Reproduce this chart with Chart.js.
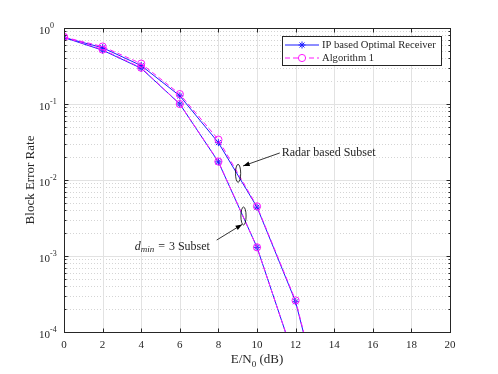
<!DOCTYPE html>
<html>
<head>
<meta charset="utf-8">
<script src="https://cdn.jsdelivr.net/npm/chart.js@4/dist/chart.umd.min.js"></script>
<style>
  html, body { margin: 0; padding: 0; background: #fff; }
  #wrap { width: 498px; height: 374px; }
</style>
</head>
<body>
<div id="wrap"><canvas id="berChart" width="498" height="374"></canvas></div>
<script>
// values
const snrDb = [0, 2, 4, 6, 8, 10, 12, 14];
const ipRadar = [0.75, 0.55, 0.32, 0.128, 0.031, 0.0044, 0.00025, 0.0000025];
const ipDmin = [0.75, 0.51, 0.295, 0.10, 0.0173, 0.0013, 0.00004];
const algRadar = [0.76, 0.57, 0.34, 0.135, 0.034, 0.0045, 0.00026, 0.0000026];
const algDmin = [0.76, 0.52, 0.30, 0.10, 0.0175, 0.0013, 0.00004];

const xTicks = [0, 2, 4, 6, 8, 10, 12, 14, 16, 18, 20];
const yDecades = [0, -1, -2, -3, -4];

// annotation anchors, in data units
const radarEllipse = { x: 9.02, y: 0.01225 };
const dminEllipse = { x: 9.30, y: 0.00336 };
const radarArrow = { from: { x: 11.18, y: 0.0227 }, to: { x: 9.28, y: 0.0153 } };
const dminArrow = { from: { x: 7.91, y: 0.00162 }, to: { x: 9.23, y: 0.0026 } };
const radarText = { x: 11.28, y: 0.0227, text: 'Radar based Subset' };
const dminText = { x: 3.66, y: 0.00132 };

const SERIF = '"Liberation Serif", "Times New Roman", serif';
const BLUE = '#1a1aff';
const MAGENTA = '#ff19ff';

function toPoints(vals) {
    return vals.map((v, i) => ({ x: snrDb[i], y: v }));
}

function ipStyle(vals) {
    return {
        label: 'IP based Optimal Receiver',
        data: toPoints(vals),
        borderColor: BLUE,
        backgroundColor: BLUE,
        borderWidth: 1,
        pointStyle: 'star',
        pointRadius: 3.5,
        pointBorderColor: BLUE,
        pointBorderWidth: 1,
        order: 1
    };
}

function algStyle(vals) {
    return {
        label: 'Algorithm 1',
        data: toPoints(vals),
        borderColor: MAGENTA,
        backgroundColor: 'rgba(0,0,0,0)',
        borderWidth: 1,
        borderDash: [5, 3],
        pointStyle: 'circle',
        pointRadius: 3.6,
        pointBorderColor: MAGENTA,
        pointBorderWidth: 1,
        order: 0
    };
}

// draws the matlab style grid, box, ticks, labels, legend and notes
const matlabLook = {
    id: 'matlabLook',
    beforeDatasetsDraw(chart) {
        const ctx = chart.ctx;
        const a = chart.chartArea;
        const xs = chart.scales.x, ys = chart.scales.y;
        ctx.save();
        // minor dotted lines
        ctx.strokeStyle = '#d4d4d4';
        ctx.lineWidth = 1;
        ctx.setLineDash([1, 2]);
        for (let d = -4; d < 0; d++) {
            for (let k = 2; k <= 9; k++) {
                const y = Math.round(ys.getPixelForValue(k * Math.pow(10, d))) + 0.5;
                ctx.beginPath(); ctx.moveTo(a.left, y); ctx.lineTo(a.right, y); ctx.stroke();
            }
        }
        ctx.setLineDash([]);
        ctx.strokeStyle = '#e2e2e2';
        yDecades.forEach(d => {
            const y = Math.round(ys.getPixelForValue(Math.pow(10, d))) + 0.5;
            ctx.beginPath(); ctx.moveTo(a.left, y); ctx.lineTo(a.right, y); ctx.stroke();
        });
        xTicks.forEach(t => {
            const x = Math.round(xs.getPixelForValue(t)) + 0.5;
            ctx.beginPath(); ctx.moveTo(x, a.top); ctx.lineTo(x, a.bottom); ctx.stroke();
        });
        ctx.restore();
    },
    afterDatasetsDraw(chart) {
        const ctx = chart.ctx;
        const a = chart.chartArea;
        const xs = chart.scales.x, ys = chart.scales.y;
        ctx.save();
        ctx.strokeStyle = '#262626';
        ctx.lineWidth = 1;
        const L = Math.round(a.left) + 0.5, R = Math.round(a.right) + 0.5;
        const T = Math.round(a.top) + 0.5, B = Math.round(a.bottom) + 0.5;
        ctx.strokeRect(L, T, R - L, B - T);
        // ticks
        ctx.beginPath();
        xTicks.forEach(t => {
            const x = Math.round(xs.getPixelForValue(t)) + 0.5;
            ctx.moveTo(x, B); ctx.lineTo(x, B - 4);
            ctx.moveTo(x, T); ctx.lineTo(x, T + 4);
        });
        yDecades.forEach(d => {
            const y = Math.round(ys.getPixelForValue(Math.pow(10, d))) + 0.5;
            ctx.moveTo(L, y); ctx.lineTo(L + 4, y);
            ctx.moveTo(R, y); ctx.lineTo(R - 4, y);
        });
        for (let d = -4; d < 0; d++) {
            for (let k = 2; k <= 9; k++) {
                const y = Math.round(ys.getPixelForValue(k * Math.pow(10, d))) + 0.5;
                ctx.moveTo(L, y); ctx.lineTo(L + 2, y);
                ctx.moveTo(R, y); ctx.lineTo(R - 2, y);
            }
        }
        ctx.stroke();

        // tick labels
        ctx.fillStyle = '#262626';
        ctx.font = '11px ' + SERIF;
        ctx.textAlign = 'center';
        ctx.textBaseline = 'middle';
        xTicks.forEach(t => {
            ctx.fillText(String(t), xs.getPixelForValue(t), a.bottom + 13);
        });
        yDecades.forEach(d => {
            const y = ys.getPixelForValue(Math.pow(10, d));
            ctx.font = '11px ' + SERIF;
            ctx.textAlign = 'right';
            ctx.fillText('10', a.left - 14, y + 3);
            ctx.font = '8px ' + SERIF;
            ctx.textAlign = 'left';
            ctx.fillText(d === 0 ? '0' : '-' + Math.abs(d), a.left - 14, y - 2);
        });

        // axis titles
        ctx.textAlign = 'left';
        const cx = (a.left + a.right) / 2;
        const part1 = 'E/N', part2 = ' (dB)';
        ctx.font = '13px ' + SERIF;
        const w1 = ctx.measureText(part1).width;
        const w3 = ctx.measureText(part2).width;
        ctx.font = '9px ' + SERIF;
        const w2 = ctx.measureText('0').width;
        let x0 = cx - (w1 + w2 + w3) / 2;
        ctx.font = '13px ' + SERIF;
        ctx.fillText(part1, x0, 360);
        ctx.font = '9px ' + SERIF;
        ctx.fillText('0', x0 + w1, 365);
        ctx.font = '13px ' + SERIF;
        ctx.fillText(part2, x0 + w1 + w2, 360);

        ctx.save();
        ctx.translate(31, (a.top + a.bottom) / 2);
        ctx.rotate(-Math.PI / 2);
        ctx.textAlign = 'center';
        ctx.fillText('Block Error Rate', 0, 0);
        ctx.restore();
        ctx.restore();
    },
    afterDraw(chart) {
        const ctx = chart.ctx;
        const xs = chart.scales.x, ys = chart.scales.y;
        const px = p => ({ x: xs.getPixelForValue(p.x), y: ys.getPixelForValue(p.y) });
        ctx.save();
        ctx.strokeStyle = '#000';
        ctx.fillStyle = '#000';
        ctx.lineWidth = 0.8;

        [radarEllipse, dminEllipse].forEach(e => {
            const c = px(e);
            ctx.beginPath();
            ctx.ellipse(c.x, c.y, 2.6, 9, 0, 0, Math.PI * 2);
            ctx.stroke();
        });

        [radarArrow, dminArrow].forEach(ar => {
            const f = px(ar.from), t = px(ar.to);
            const ang = Math.atan2(t.y - f.y, t.x - f.x);
            ctx.beginPath();
            ctx.moveTo(f.x, f.y);
            ctx.lineTo(t.x, t.y);
            ctx.stroke();
            ctx.beginPath();
            ctx.moveTo(t.x, t.y);
            ctx.lineTo(t.x - 7 * Math.cos(ang - 0.35), t.y - 7 * Math.sin(ang - 0.35));
            ctx.lineTo(t.x - 7 * Math.cos(ang + 0.35), t.y - 7 * Math.sin(ang + 0.35));
            ctx.closePath();
            ctx.fill();
        });

        ctx.fillStyle = '#262626';
        ctx.textBaseline = 'middle';
        ctx.textAlign = 'left';
        const rt = px(radarText);
        ctx.font = '12px ' + SERIF;
        ctx.fillText(radarText.text, rt.x, rt.y);

        const dt = px(dminText);
        let x = dt.x;
        ctx.font = 'italic 12px ' + SERIF;
        ctx.fillText('d', x, dt.y);
        x += ctx.measureText('d').width;
        ctx.font = 'italic 9px ' + SERIF;
        ctx.fillText('min', x, dt.y + 3);
        x += ctx.measureText('min').width + 4;
        ctx.font = '12px ' + SERIF;
        ctx.fillText('=', x, dt.y);
        x += ctx.measureText('=').width + 4;
        ctx.fillText('3 Subset', x, dt.y);

        // legend box
        const bx = 282.5, by = 36.5, bw = 159, bh = 29;
        ctx.fillStyle = '#fff';
        ctx.fillRect(bx, by, bw, bh);
        ctx.strokeStyle = '#262626';
        ctx.lineWidth = 1;
        ctx.strokeRect(bx, by, bw, bh);
        // pick a size so the longest label fits like in the figure
        ctx.font = '10px ' + SERIF;
        const legendPx = Math.min(12, 10 * 114 / ctx.measureText(chart.data.datasets[0].label).width);
        const rows = [chart.data.datasets[0], chart.data.datasets[2]];
        rows.forEach((ds, i) => {
            const ry = 45 + i * 13;
            ctx.strokeStyle = ds.borderColor;
            ctx.lineWidth = 1;
            ctx.setLineDash(ds.borderDash || []);
            ctx.beginPath();
            ctx.moveTo(285, ry); ctx.lineTo(319, ry);
            ctx.stroke();
            ctx.setLineDash([]);
            ctx.fillStyle = '#fff';
            ctx.strokeStyle = ds.pointBorderColor;
            Chart.helpers.drawPoint(ctx, {
                pointStyle: ds.pointStyle, radius: ds.pointRadius, borderWidth: 1, rotation: 0
            }, 302, ry);
            ctx.fillStyle = '#262626';
            ctx.font = legendPx + 'px ' + SERIF;
            ctx.fillText(ds.label, 322, ry);
        });
        ctx.restore();
    }
};

const ctx = document.getElementById('berChart').getContext('2d');
const berChart = new Chart(ctx, {
    type: 'line',
    data: {
        datasets: [ipStyle(ipRadar), ipStyle(ipDmin), algStyle(algRadar), algStyle(algDmin)]
    },
    options: {
        responsive: false,
        animation: false,
        devicePixelRatio: 1,
        layout: { padding: { top: 28, right: 48, left: 0, bottom: 0 } },
        plugins: { legend: { display: false }, tooltip: { enabled: false } },
        scales: {
            x: {
                type: 'linear', min: 0, max: 20,
                ticks: { display: false },
                grid: { display: false },
                border: { display: false },
                afterFit: s => { s.height = 42; }
            },
            y: {
                type: 'logarithmic', min: 0.0001, max: 1,
                ticks: { display: false },
                grid: { display: false },
                border: { display: false },
                afterFit: s => { s.width = 64; }
            }
        }
    },
    plugins: [matlabLook]
});
</script>
</body>
</html>
